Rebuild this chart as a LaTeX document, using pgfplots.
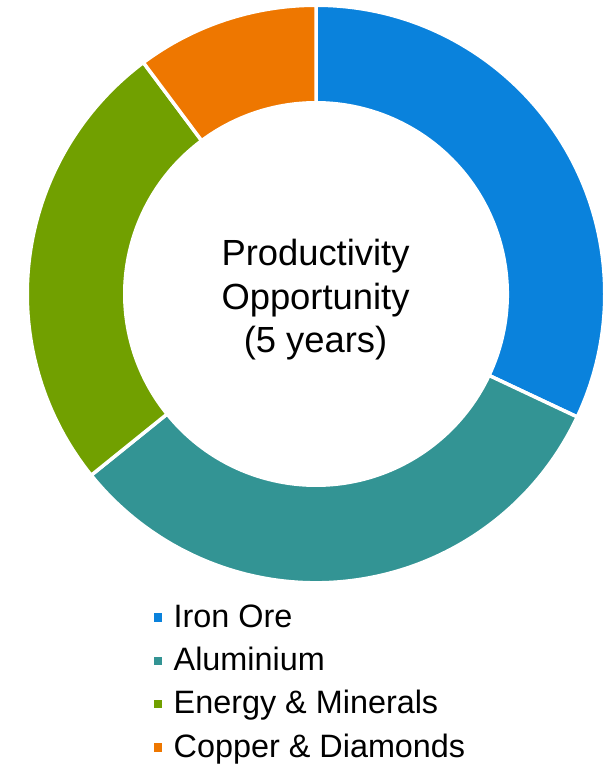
\documentclass[border=0pt]{standalone}
\usepackage{pgfplots}
\pgfplotsset{compat=1.18}
\usepackage{pgfplotstable}
\usepackage{fontspec}
\setmainfont{Liberation Sans}
\definecolor{cIron}{RGB}{10,130,220}
\definecolor{cAlu}{RGB}{51,148,148}
\definecolor{cEnergy}{RGB}{113,160,0}
\definecolor{cCopper}{RGB}{238,119,0}
\pgfplotstableread{
label value
Iron 32.0
Aluminium 32.2
Energy 25.6
Copper 10.2
}\datatable
\pgfplotstablegetelem{0}{value}\of\datatable \let\vI\pgfplotsretval
\pgfplotstablegetelem{1}{value}\of\datatable \let\vII\pgfplotsretval
\pgfplotstablegetelem{2}{value}\of\datatable \let\vIII\pgfplotsretval
\pgfplotstablegetelem{3}{value}\of\datatable \let\vIV\pgfplotsretval
\pgfmathsetmacro\aO{90}
\pgfmathsetmacro\aI{\aO-3.6*\vI}
\pgfmathsetmacro\aII{\aI-3.6*\vII}
\pgfmathsetmacro\aIII{\aII-3.6*\vIII}
\pgfmathsetmacro\aIV{\aIII-3.6*\vIV}
\newcommand\slice[3]{%
  \draw[fill=#1, draw=white, line width=3.5bp, line join=miter]
    ([shift={(#2:288.75bp)}]axis cs:316,470) arc[start angle=#2, end angle=#3, radius=288.75bp]
    -- ([shift={(#3:191.25bp)}]axis cs:316,470) arc[start angle=#3, end angle=#2, radius=191.25bp]
    -- cycle;}
\begin{document}
\begin{tikzpicture}
\useasboundingbox (0,0) rectangle (608bp,764bp);
\begin{axis}[x=1bp, y=1bp, xmin=0, xmax=608, ymin=0, ymax=764,
  hide axis, clip=false, at={(0,0)}, anchor=origin]
\slice{cIron}{\aO}{\aI}
\slice{cAlu}{\aI}{\aII}
\slice{cEnergy}{\aII}{\aIII}
\slice{cCopper}{\aIII}{\aIV}
\node[anchor=base, inner sep=0, font=\fontsize{36.5}{43}\selectfont] at (axis cs:315.5,498) {Productivity};
\node[anchor=base, inner sep=0, font=\fontsize{36.5}{43}\selectfont] at (axis cs:315.5,454.7) {Opportunity};
\node[anchor=base, inner sep=0, font=\fontsize{36.5}{43}\selectfont] at (axis cs:315.5,411.4) {(5 years)};
\fill[cIron] (axis cs:154,142.3) rectangle (axis cs:161.5,150.7);
\fill[cAlu] (axis cs:154,99) rectangle (axis cs:161.5,107.4);
\fill[cEnergy] (axis cs:154,55.7) rectangle (axis cs:161.5,64.1);
\fill[cCopper] (axis cs:154,12.4) rectangle (axis cs:161.5,20.8);
\node[anchor=base west, inner sep=0, font=\fontsize{32.5}{43}\selectfont] at (axis cs:173.5,136.7) {Iron Ore};
\node[anchor=base west, inner sep=0, font=\fontsize{32.5}{43}\selectfont] at (axis cs:173.5,93.4) {Aluminium};
\node[anchor=base west, inner sep=0, font=\fontsize{32.5}{43}\selectfont] at (axis cs:173.5,50.1) {Energy \& Minerals};
\node[anchor=base west, inner sep=0, font=\fontsize{32.5}{43}\selectfont] at (axis cs:173.5,6.8) {Copper \& Diamonds};
\end{axis}
\end{tikzpicture}
\end{document}
